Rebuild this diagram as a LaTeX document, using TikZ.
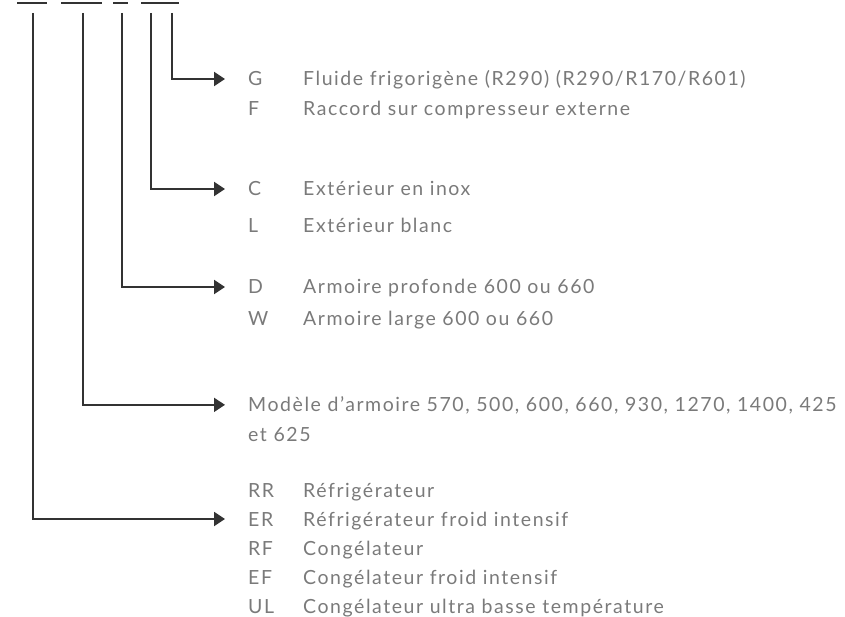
\documentclass[tikz,border=0pt]{standalone}
\usepackage{fontspec}
\setmainfont{Lato}[LetterSpace=8]
\usetikzlibrary{arrows.meta}

\definecolor{linegray}{HTML}{333333}
\definecolor{textgray}{HTML}{7A7A7A}

\tikzset{
  code/.style={anchor=base west, inner sep=0pt, text=textgray},
  desc/.style={anchor=base west, inner sep=0pt, text=textgray},
  bar/.style={draw=linegray, line width=2pt},
  lead/.style={draw=linegray, line width=2pt,
    -{Triangle[length=11pt, width=14pt]}}
}

\begin{document}
\begin{tikzpicture}[x=1pt, y=-1pt, font=\fontsize{19.5}{23}\selectfont]

  \useasboundingbox (0,0) rectangle (845,617);

  %% ================= TOP BARS =================
  \draw[bar] (17,3) -- (47,3);
  \draw[bar] (61,3) -- (102,3);
  \draw[bar] (113,3) -- (128,3);
  \draw[bar] (141,3) -- (179,3);

  % start points of the leads
  \coordinate (t1) at (33,13);
  \coordinate (t2) at (83,13);
  \coordinate (t3) at (122,13);
  \coordinate (t4) at (151,13);
  \coordinate (t5) at (172,13);

  %% ================= LEGEND TEXT =================
  % G / F
  \node[code] (g) at (248,86) {G};
  \node[desc] (gd) at (303,86) {Fluide frigorigène (R290) (R290/R170/R601)};
  \node[code] (f) at (248,116) {F};
  \node[desc] (fd) at (303,116) {Raccord sur compresseur externe};

  % C / L
  \node[code] (c) at (248,196) {C};
  \node[desc] (cd) at (303,196) {Extérieur en inox};
  \node[code] (l) at (248,233) {L};
  \node[desc] (ld) at (303,233) {Extérieur blanc};

  % D / W
  \node[code] (d) at (248,294) {D};
  \node[desc] (dd) at (303,294) {Armoire profonde 600 ou 660};
  \node[code] (w) at (248,325) {W};
  \node[desc] (wd) at (303,325) {Armoire large 600 ou 660};

  % Modele
  \node[code] (m) at (248,411) {Modèle d’armoire 570, 500, 600, 660, 930, 1270, 1400, 425};
  \node[code] (m2) at (248,441) {et 625};

  % RR ... UL
  \node[code] (rr) at (248,497) {RR};
  \node[desc] (rrd) at (303,497) {Réfrigérateur};
  \node[code] (er) at (248,526) {ER};
  \node[desc] (erd) at (303,526) {Réfrigérateur froid intensif};
  \node[code] (rf) at (248,555) {RF};
  \node[desc] (rfd) at (303,555) {Congélateur};
  \node[code] (ef) at (248,584) {EF};
  \node[desc] (efd) at (303,584) {Congélateur froid intensif};
  \node[code] (ul) at (248,613) {UL};
  \node[desc] (uld) at (303,613) {Congélateur ultra basse température};

  %% ================= LEADS =================
  \draw[lead] (t5) |- ([xshift=-23pt]g.west);
  \draw[lead] (t4) |- ([xshift=-23pt]c.west);
  \draw[lead] (t3) |- ([xshift=-23pt]d.west);
  \draw[lead] (t2) |- ([xshift=-23pt]m.west);
  \draw[lead] (t1) |- ([xshift=-23pt]er.west);

\end{tikzpicture}
\end{document}
